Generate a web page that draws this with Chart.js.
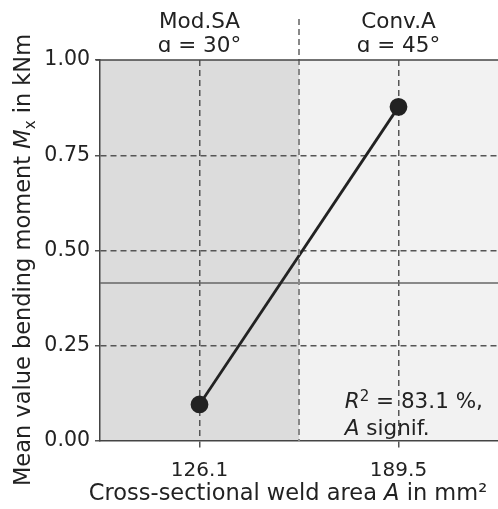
<!DOCTYPE html>
<html>
<head>
<meta charset="utf-8">
<script src="https://cdn.jsdelivr.net/npm/chart.js@4"></script>
<style>
  body { margin: 0; background: #fff; }
  #wrap { width: 498px; height: 509px; }
</style>
</head>
<body>
<div id="wrap"><canvas id="chart" width="498" height="509"></canvas></div>
<script>
// chart data
const areaLabels = ['126.1', '189.5'];
const groupNames = ['Mod.SA', 'Conv.A'];
const groupAngles = ['ɑ = 30°', 'ɑ = 45°'];
const meanMoment = [0.096, 0.877];
const overallLevel = 0.415;
const yTicks = [0, 0.25, 0.5, 0.75, 1];
const fitNote = ['83.1 %,', 'signif.'];

const FONT = '"DejaVu Sans", Verdana, sans-serif';
const gridCol = '#555';

// draws runs of text with different styles one after another
function drawRuns(ctx, runs, x, y) {
  let cx = x;
  runs.forEach(function (r) {
    ctx.font = (r.italic ? 'italic ' : '') + r.size + 'px ' + FONT;
    ctx.fillText(r.text, cx, y + (r.dy || 0));
    cx += ctx.measureText(r.text).width;
  });
  return cx - x;
}
function runsWidth(ctx, runs) {
  let w = 0;
  runs.forEach(function (r) {
    ctx.font = (r.italic ? 'italic ' : '') + r.size + 'px ' + FONT;
    w += ctx.measureText(r.text).width;
  });
  return w;
}

const decorPlugin = {
  id: 'decor',
  beforeDraw: function (chart) {
    const ctx = chart.ctx, a = chart.chartArea, xs = chart.scales.x;
    const mid = xs.getPixelForValue(0.5);
    ctx.save();
    ctx.fillStyle = '#dcdcdc';
    ctx.fillRect(a.left, a.top, mid - a.left, a.bottom - a.top);
    ctx.fillStyle = '#f2f2f2';
    ctx.fillRect(mid, a.top, a.right - mid, a.bottom - a.top);
    ctx.restore();
  },
  afterDraw: function (chart) {
    const ctx = chart.ctx, a = chart.chartArea, xs = chart.scales.x, ys = chart.scales.y;
    ctx.save();
    // divider between the two groups
    const mid = xs.getPixelForValue(0.5);
    ctx.strokeStyle = '#888';
    ctx.lineWidth = 2;
    ctx.setLineDash([6, 4]);
    ctx.beginPath();
    ctx.moveTo(mid, 19);
    ctx.lineTo(mid, a.bottom);
    ctx.stroke();
    ctx.setLineDash([]);
    // top frame
    ctx.strokeStyle = '#444';
    ctx.lineWidth = 1.5;
    ctx.beginPath();
    ctx.moveTo(a.left - 4, a.top);
    ctx.lineTo(a.right, a.top);
    ctx.stroke();

    // group headings
    ctx.fillStyle = '#222';
    ctx.textAlign = 'center';
    ctx.textBaseline = 'alphabetic';
    ctx.font = '21.5px ' + FONT;
    groupNames.forEach(function (g, i) {
      const px = xs.getPixelForValue(i);
      ctx.fillText(g, px, 28);
      ctx.fillText(groupAngles[i], px, 52);
    });

    // x axis title
    ctx.textAlign = 'left';
    const xRuns = [
      { text: 'Cross-sectional weld area ', size: 22.5 },
      { text: 'A', size: 22.5, italic: true },
      { text: ' in mm²', size: 22.5 }
    ];
    const xw = runsWidth(ctx, xRuns);
    drawRuns(ctx, xRuns, 288 - xw / 2, 500);

    // y axis title, rotated
    const yRuns = [
      { text: 'Mean value bending moment ', size: 22.5 },
      { text: 'M', size: 22.5, italic: true },
      { text: 'x', size: 15, dy: 5 },
      { text: ' in kNm', size: 22.5 }
    ];
    const yw = runsWidth(ctx, yRuns);
    ctx.save();
    ctx.translate(30, 260);
    ctx.rotate(-Math.PI / 2);
    drawRuns(ctx, yRuns, -yw / 2, 0);
    ctx.restore();

    // fit note
    const nx = xs.getPixelForValue(0.73);
    drawRuns(ctx, [
      { text: 'R', size: 21.5, italic: true },
      { text: '2', size: 15, dy: -7 },
      { text: ' = ' + fitNote[0], size: 21.5 }
    ], nx, ys.getPixelForValue(0.087));
    drawRuns(ctx, [
      { text: 'A', size: 21.5, italic: true },
      { text: ' ' + fitNote[1], size: 21.5 }
    ], nx, ys.getPixelForValue(0.016));
    ctx.restore();
  }
};

const ctx = document.getElementById('chart').getContext('2d');
new Chart(ctx, {
  type: 'scatter',
  data: {
    datasets: [{
      data: meanMoment.map(function (v, i) { return { x: i, y: v }; }),
      showLine: true,
      borderColor: '#222',
      borderWidth: 2.8,
      backgroundColor: '#222',
      pointRadius: 7.5,
      pointHoverRadius: 7.5,
      order: 0
    }, {
      data: [{ x: -0.5, y: overallLevel }, { x: 1.5, y: overallLevel }],
      showLine: true,
      borderColor: '#666',
      borderWidth: 1.5,
      pointRadius: 0,
      order: 1
    }]
  },
  options: {
    responsive: false,
    animation: false,
    layout: { autoPadding: false, padding: { top: 60, right: 0, left: 0, bottom: 0 } },
    plugins: { legend: { display: false }, tooltip: { enabled: false } },
    scales: {
      x: {
        type: 'linear',
        min: -0.5,
        max: 1.5,
        afterBuildTicks: function (s) { s.ticks = areaLabels.map(function (_, i) { return { value: i }; }); },
        afterFit: function (s) { s.height = 68; s.paddingLeft = 0; s.paddingRight = 0; },
        ticks: {
          callback: function (v) { return areaLabels[v]; },
          color: '#222',
          font: { family: FONT, size: 20 },
          padding: 9
        },
        grid: {
          color: gridCol,
          lineWidth: 1.5,
          tickLength: 9,
          tickColor: gridCol,
          tickBorderDash: [6, 4]
        },
        border: { color: '#444', width: 1.5, dash: [6, 4] }
      },
      y: {
        min: 0,
        max: 1,
        afterBuildTicks: function (s) { s.ticks = yTicks.map(function (v) { return { value: v }; }); },
        afterFit: function (s) { s.width = 100; s.paddingTop = 0; s.paddingBottom = 0; },
        ticks: {
          callback: function (v) { return v.toFixed(2); },
          color: '#222',
          font: { family: FONT, size: 20.5 },
          padding: 5
        },
        grid: {
          color: function (c) { return (c.tick && (c.tick.value === 0 || c.tick.value === 1)) ? 'rgba(0,0,0,0)' : gridCol; },
          lineWidth: 1.5,
          tickLength: 5,
          tickColor: gridCol,
          tickBorderDash: [6, 4]
        },
        border: { color: '#444', width: 1.5, dash: [6, 4] }
      }
    }
  },
  plugins: [decorPlugin]
});
</script>
</body>
</html>
